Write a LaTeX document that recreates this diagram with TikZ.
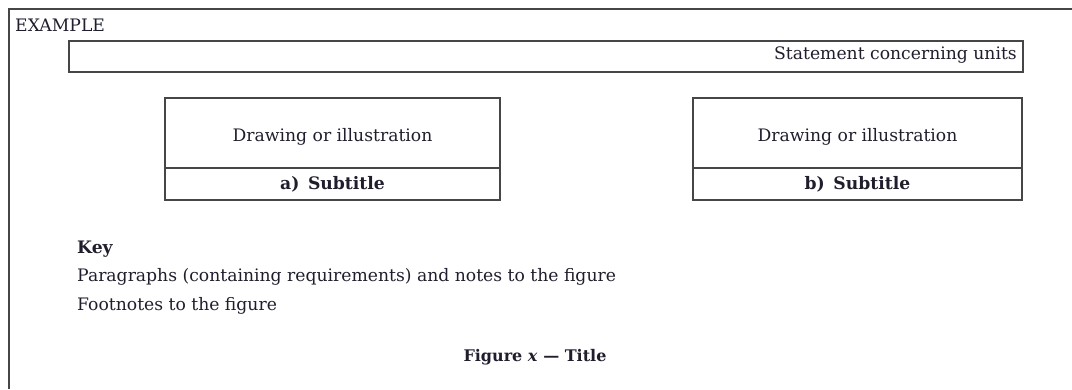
\documentclass[tikz,border=0pt]{standalone}
\usepackage{fontspec}
\setmainfont{DejaVu Serif}
\definecolor{linec}{RGB}{70,70,70}
\definecolor{txtc}{RGB}{30,30,45}
\tikzset{
  frame/.style={draw=linec, line width=1.4pt},
  boxnode/.style={frame, inner sep=0pt, outer sep=0pt, anchor=north west},
  txt/.style={inner sep=0pt, text=txtc, font=\fontsize{17.2}{19}\selectfont},
  btxt/.style={txt, font=\fontsize{17.2}{19}\selectfont\bfseries},
}
\begin{document}
\begin{tikzpicture}[x=1pt,y=-1pt]
\useasboundingbox (0,0) rectangle (1072,389);
% outer frame (top and left)
\coordinate (ftl) at (9,9);
\coordinate (ftr) at (1072,9);
\coordinate (fbl) at (9,389);
\draw[frame] (ftr) -- (ftl) -- (fbl);
\node[txt, anchor=base west] (example) at (15,31) {EXAMPLE};
% statement box
\node[boxnode, minimum width=954pt, minimum height=31pt] (stmt) at (69,41) {};
\node[txt, anchor=east] (units) at ([xshift=-6pt,yshift=1pt]stmt.east) {Statement concerning units};
% box a
\node[boxnode, minimum width=335pt, minimum height=102pt] (boxa) at (165,98) {};
\coordinate (adl) at (165,168);
\coordinate (adr) at (500,168);
\draw[frame] (adl) -- (adr);
\node[txt] (drawa) at (332.5,137) {Drawing or illustration};
\node[btxt] (suba) at (332.5,184) {a)\enspace Subtitle};
% box b
\node[boxnode, minimum width=329pt, minimum height=102pt] (boxb) at (693,98) {};
\coordinate (bdl) at (693,168);
\coordinate (bdr) at (1022,168);
\draw[frame] (bdl) -- (bdr);
\node[txt] (drawb) at (857.5,137) {Drawing or illustration};
\node[btxt] (subb) at (857.5,184) {b)\enspace Subtitle};
% key
\node[btxt, anchor=west] (key) at (77,249) {Key};
\node[txt, anchor=west] (para) at (77,277) {Paragraphs (containing requirements) and notes to the figure};
\node[txt, anchor=west] (foot) at (77,306) {Footnotes to the figure};
\node[btxt, font=\fontsize{16}{18}\selectfont\bfseries] (title) at (535,357) {Figure \textit{x} — Title};
\end{tikzpicture}
\end{document}
